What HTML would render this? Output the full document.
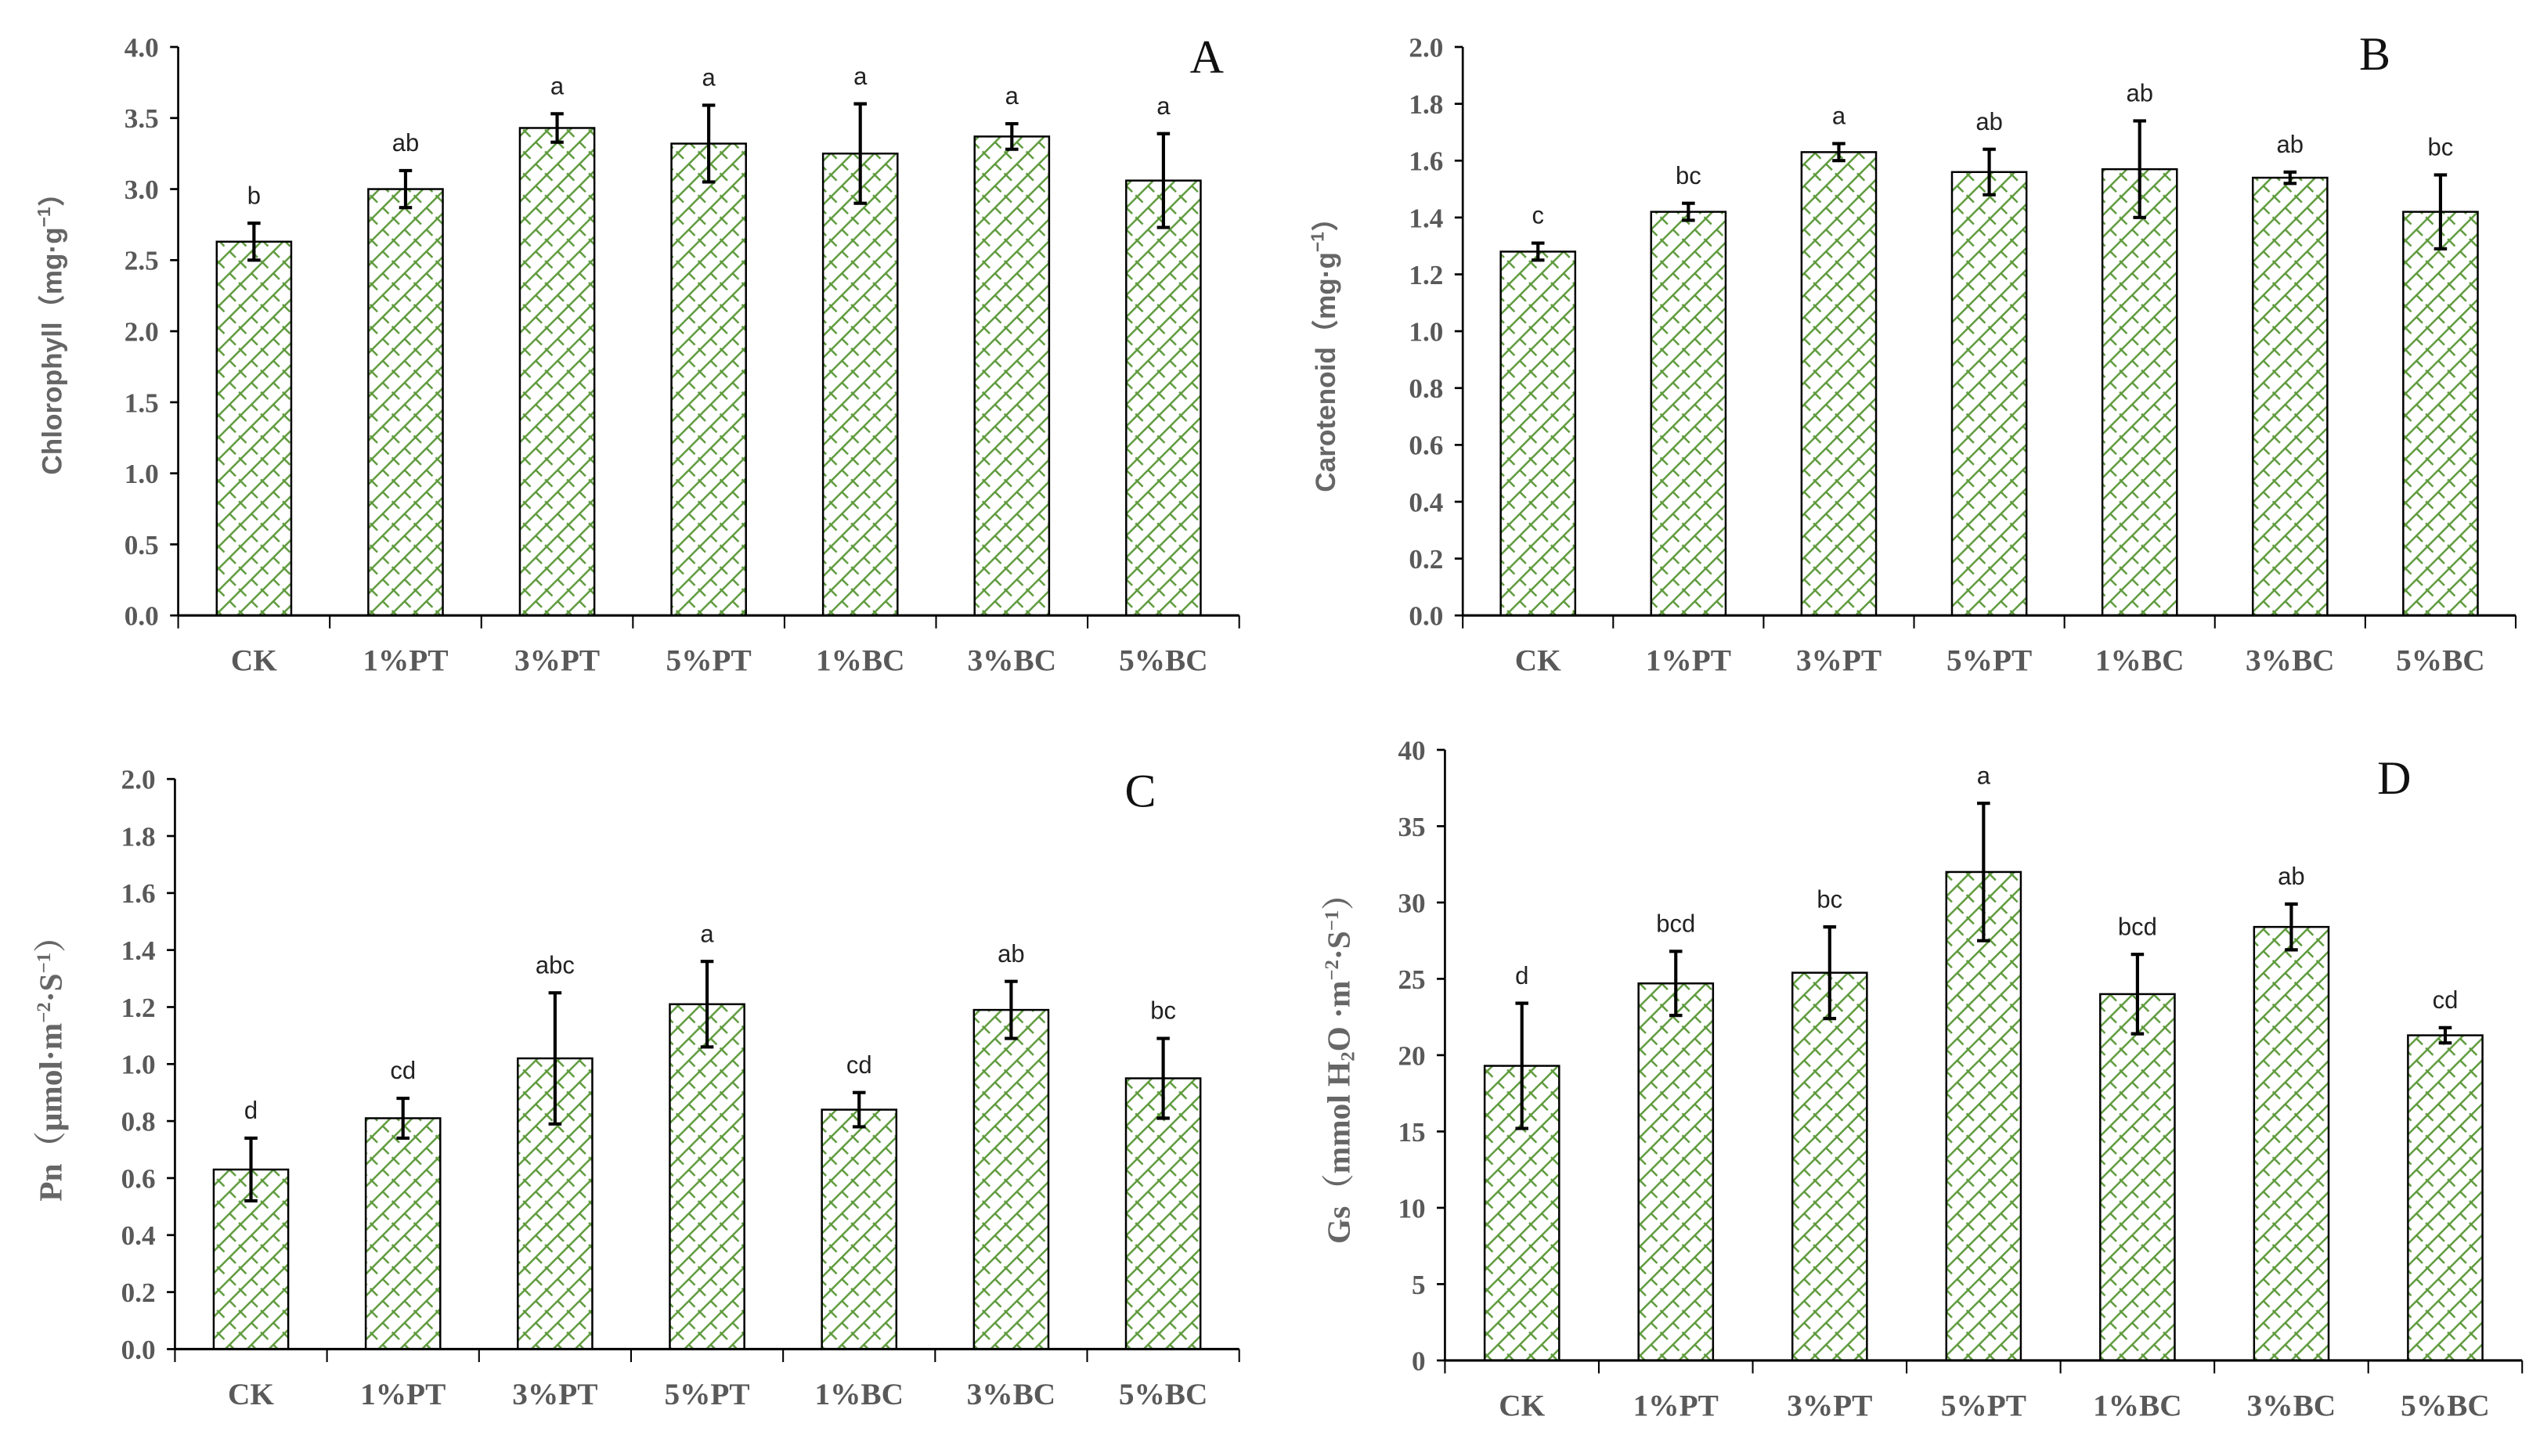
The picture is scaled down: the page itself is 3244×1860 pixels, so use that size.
<!DOCTYPE html>
<html><head><meta charset="utf-8"><style>
html,body{margin:0;padding:0;background:#fff;}
svg{display:block;}
.tick{font-family:"Liberation Serif",serif;font-weight:bold;fill:#595959;font-size:17px;}
.cat{font-family:"Liberation Serif",serif;font-weight:bold;fill:#595959;font-size:19px;}
.sig{font-family:"Liberation Sans",sans-serif;fill:#222;font-size:15px;}
.pl{font-family:"Liberation Serif",serif;fill:#111;font-size:29px;}
.yt{font-weight:bold;fill:#666;}
</style></head><body>
<svg id="fig" width="3244" height="1860" viewBox="0 0 1568 899" preserveAspectRatio="none" xmlns="http://www.w3.org/2000/svg">
<defs>
<pattern id="zig" patternUnits="userSpaceOnUse" width="13.5" height="13.5">
<path d="M0,13.5 L13.5,0 M-1,-1 L3.5,3.5 M6.75,6.75 L10.5,10.5 M12.5,12.5 L14.5,14.5" stroke="#5e9a3c" stroke-width="1.2" fill="none"/>
</pattern>
</defs>
</svg>
<script>
const categories=["CK","1%PT","3%PT","5%PT","1%BC","3%BC","5%BC"];
const valuesA=[2.63,3.00,3.43,3.32,3.25,3.37,3.06];
const errorsA=[0.13,0.13,0.10,0.27,0.35,0.09,0.33];
const lettersA=["b","ab","a","a","a","a","a"];
const ticksA=["0.0","0.5","1.0","1.5","2.0","2.5","3.0","3.5","4.0"];
const valuesB=[1.28,1.42,1.63,1.56,1.57,1.54,1.42];
const errorsB=[0.03,0.03,0.03,0.08,0.17,0.02,0.13];
const lettersB=["c","bc","a","ab","ab","ab","bc"];
const ticksB=["0.0","0.2","0.4","0.6","0.8","1.0","1.2","1.4","1.6","1.8","2.0"];
const valuesC=[0.63,0.81,1.02,1.21,0.84,1.19,0.95];
const errorsC=[0.11,0.07,0.23,0.15,0.06,0.10,0.14];
const lettersC=["d","cd","abc","a","cd","ab","bc"];
const ticksC=["0.0","0.2","0.4","0.6","0.8","1.0","1.2","1.4","1.6","1.8","2.0"];
const valuesD=[19.3,24.7,25.4,32.0,24.0,28.4,21.3];
const errorsD=[4.1,2.1,3.0,4.5,2.6,1.5,0.5];
const lettersD=["d","bcd","bc","a","bcd","ab","cd"];
const ticksD=["0","5","10","15","20","25","30","35","40"];

const svg=document.getElementById('fig');
const NS="http://www.w3.org/2000/svg";
function mk(tag,attrs,parent,text){const e=document.createElementNS(NS,tag);for(const k in attrs)e.setAttribute(k,attrs[k]);if(text!==undefined)e.textContent=text;(parent||svg).appendChild(e);return e;}

function panel(cfg){
  const g=mk('g',{});
  
  
  const x0=cfg.x0,x1=cfg.x1,yb=cfg.yb,yt=cfg.yt,max=parseFloat(cfg.ticks[cfg.ticks.length-1]);
  const ys=v=>yb-(v/max)*(yb-yt);
  const step=(x1-x0)/categories.length;
  const xs=i=>x0+step*(i+0.5);
  const ya=mk('line',{x1:x0,y1:yt,x2:x0,y2:yb,stroke:'#000','stroke-width':1.3},g);
  
  
  cfg.ticks.forEach(t=>{
    const v=parseFloat(t);const y=ys(v);
    mk('line',{x1:x0-5,y1:y,x2:x0,y2:y,stroke:'#000','stroke-width':1.3},g);
    const tl=mk('text',{x:x0-12,y:y+6,'text-anchor':'end',class:'tick'},g,t);
    
    
  });
  categories.forEach((c,i)=>{
    const v=cfg.vals[i],e=cfg.errs[i],cx=xs(i),w=46;
    const b=mk('rect',{x:cx-w/2,y:ys(v),width:w,height:yb-ys(v),fill:'url(#zig)',stroke:'#000','stroke-width':1.2},g);
    
    
    const eg=mk('g',{stroke:'#000','stroke-width':2},g);
    
    
    mk('line',{x1:cx,y1:ys(v+e),x2:cx,y2:ys(v-e)},eg);
    mk('line',{x1:cx-4,y1:ys(v+e),x2:cx+4,y2:ys(v+e)},eg);
    mk('line',{x1:cx-4,y1:ys(v-e),x2:cx+4,y2:ys(v-e)},eg);
    const s=mk('text',{x:cx,y:ys(v+e)-12,'text-anchor':'middle',class:'sig'},g,cfg.letters[i]);
    
    
    const cl=mk('text',{x:cx,y:yb+34,'text-anchor':'middle',class:'cat'},g,c);
    
    
  });
  const xa=mk('line',{x1:x0,y1:yb,x2:x1,y2:yb,stroke:'#000','stroke-width':1.5},g);
  
  
  for(let i=0;i<=categories.length;i++){
    mk('line',{x1:x0+step*i,y1:yb,x2:x0+step*i,y2:yb+8,stroke:'#000','stroke-width':1},g);
  }
  const pl=mk('text',{x:cfg.lx,y:cfg.ly,'text-anchor':'middle',class:'pl'},g,cfg.label);
  
  
  const tt=mk('text',{x:0,y:0,'text-anchor':'middle',class:'yt','font-size':cfg.tsize,'font-family':cfg.tfont,transform:`translate(${cfg.tx},${cfg.ty}) rotate(-90)`},g);
  
  
  tt.innerHTML=cfg.title;
}
const sans='"Liberation Sans","Noto Sans CJK SC",sans-serif';
const serif='"Liberation Serif","Noto Serif CJK SC",serif';
panel({name:'panel-a-chlorophyll',x0:110,x1:765,yb:380,yt:29,ticks:ticksA,vals:valuesA,errs:errorsA,letters:lettersA,label:'A',lx:745,ly:45,tx:38,ty:202,tsize:17,tfont:sans,
 title:'Chlorophyll（mg·g<tspan dy="-7" font-size="11">−1</tspan><tspan dy="7">）</tspan>'});
panel({name:'panel-b-carotenoid',x0:903,x1:1553,yb:380,yt:29,ticks:ticksB,vals:valuesB,errs:errorsB,letters:lettersB,label:'B',lx:1466,ly:43,tx:824,ty:215,tsize:17,tfont:sans,
 title:'Carotenoid（mg·g<tspan dy="-7" font-size="11">−1</tspan><tspan dy="7">）</tspan>'});
panel({name:'panel-c-pn',x0:108,x1:765,yb:833,yt:481,ticks:ticksC,vals:valuesC,errs:errorsC,letters:lettersC,label:'C',lx:704,ly:498,tx:38,ty:655,tsize:20,tfont:serif,
 title:'Pn（μmol·m<tspan dy="-7" font-size="12">−2</tspan><tspan dy="7">·S</tspan><tspan dy="-7" font-size="12">−1</tspan><tspan dy="7">）</tspan>'});
panel({name:'panel-d-gs',x0:892,x1:1557,yb:840,yt:463,ticks:ticksD,vals:valuesD,errs:errorsD,letters:lettersD,label:'D',lx:1478,ly:490,tx:833,ty:655,tsize:20,tfont:serif,
 title:'Gs（mmol H<tspan font-size="12" dy="3">2</tspan><tspan dy="-3">O ·m</tspan><tspan dy="-7" font-size="12">−2</tspan><tspan dy="7">·S</tspan><tspan dy="-7" font-size="12">−1</tspan><tspan dy="7">）</tspan>'});
</script>
</body></html>
